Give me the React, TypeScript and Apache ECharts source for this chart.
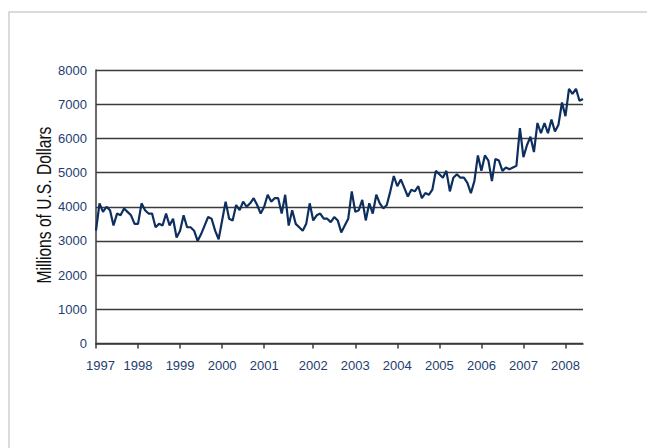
import React, { useEffect, useRef } from "react";
import * as echarts from "echarts";

// Monthly values (millions of U.S. dollars), Jan 1997 – mid 2008
const values: number[] = [
  3300, 4100, 3850, 4000, 3900, 3450, 3800, 3750, 3950, 3850, 3750, 3500,
  3500, 4100, 3900, 3800, 3800, 3400, 3500, 3450, 3800, 3450, 3650, 3100,
  3300, 3750, 3400, 3400, 3300, 3000, 3200, 3450, 3700, 3650, 3300, 3050,
  3600, 4150, 3650, 3600, 4050, 3900, 4150, 4000, 4100, 4250, 4050, 3800,
  4000, 4350, 4150, 4250, 4250, 3800, 4350, 3450, 3900, 3500, 3400, 3300,
  3500, 4100, 3600, 3750, 3800, 3650, 3650, 3550, 3700, 3600, 3250, 3450,
  3650, 4450, 3850, 3900, 4200, 3600, 4100, 3800, 4350, 4100, 3950, 4050,
  4450, 4900, 4600, 4800, 4550, 4300, 4500, 4450, 4600, 4250, 4400, 4350,
  4500, 5050, 4950, 4850, 5050, 4450, 4850, 4950, 4850, 4850, 4700, 4400,
  4750, 5500, 5050, 5500, 5350, 4750, 5400, 5350, 5050, 5150, 5100, 5150,
  5200, 6300, 5450, 5800, 6050, 5600, 6450, 6150, 6450, 6150, 6550, 6200,
  6400, 7050, 6650, 7450, 7300, 7450, 7100, 7150,
];

// Year tick labels and the point index at which each one sits on the axis
const tickLabels: string[] = ["1997", "1998", "1999", "2000", "2001", "2002", "2003", "2004", "2005", "2006", "2007", "2008"];
const tickIndices: number[] = [0, 12, 24, 36, 48, 62, 74, 86, 98, 110, 122, 134];

const yTicks = { min: 0, max: 8000, interval: 1000 };
const yTitle = "Millions of U.S. Dollars";

export default function App() {
  const ref = useRef<HTMLDivElement>(null);

  useEffect(() => {
    if (!ref.current) return;
    const chart = echarts.init(ref.current, null, { renderer: "svg" });
    const categories = values.map((_, i) => String(i));
    const labelAt = (i: number) => {
      const k = tickIndices.indexOf(i);
      return k >= 0 ? tickLabels[k] : "";
    };
    const font = "Liberation Sans";
    const labelColor = "#1e3d70";
    chart.setOption({
      animation: false,
      backgroundColor: "#ffffff",
      graphic: [
        {
          type: "rect",
          shape: { x: 9, y: 12, width: 800, height: 600 },
          style: { fill: "none", stroke: "#cfcfcf", lineWidth: 1.5 },
          silent: true,
        },
        {
          type: "text",
          x: 44,
          y: 205,
          rotation: Math.PI / 2,
          scaleX: 0.8,
          style: {
            text: yTitle,
            fontFamily: font,
            fontSize: 19.5,
            fill: "#111111",
            align: "center",
            verticalAlign: "middle",
          },
          silent: true,
        },
      ],
      grid: { left: 96, right: 64, top: 70, bottom: 104.5 },
      xAxis: {
        type: "category",
        data: categories,
        boundaryGap: false,
        axisLine: { show: true, lineStyle: { color: "#3a3a3a", width: 1.5 } },
        axisTick: {
          show: true,
          length: 5,
          interval: (i: number) => tickIndices.includes(i),
          lineStyle: { color: "#3a3a3a", width: 1.5 },
        },
        axisLabel: {
          interval: (i: number) => tickIndices.includes(i),
          formatter: (_v: string, i: number) => {
            const t = labelAt(i);
            return i === 0 ? "{first|" + t + "}" : t;
          },
          rich: {
            first: { padding: [0, 0, 0, 9], fontFamily: font, fontSize: 13, color: labelColor },
          },
          margin: 15,
          fontFamily: font,
          fontSize: 13,
          color: labelColor,
        },
        splitLine: { show: false },
      },
      yAxis: {
        type: "value",
        min: yTicks.min,
        max: yTicks.max,
        interval: yTicks.interval,
        axisLine: { show: true, lineStyle: { color: "#3a3a3a", width: 1.5 } },
        axisTick: { show: false },
        axisLabel: {
          margin: 9,
          fontFamily: font,
          fontSize: 13,
          color: labelColor,
          formatter: (v: number) => String(v),
        },
        splitLine: { show: true, lineStyle: { color: "#3a3a3a", width: 1.4 } },
      },
      series: [
        {
          type: "line",
          data: values,
          showSymbol: false,
          symbol: "none",
          lineStyle: { color: "#0d2f5f", width: 2.2 },
        },
      ],
    });
    return () => chart.dispose();
  }, []);

  return (
    <div
      ref={ref}
      style={{ position: "absolute", left: 0, top: 0, width: 647, height: 448 }}
    />
  );
}
